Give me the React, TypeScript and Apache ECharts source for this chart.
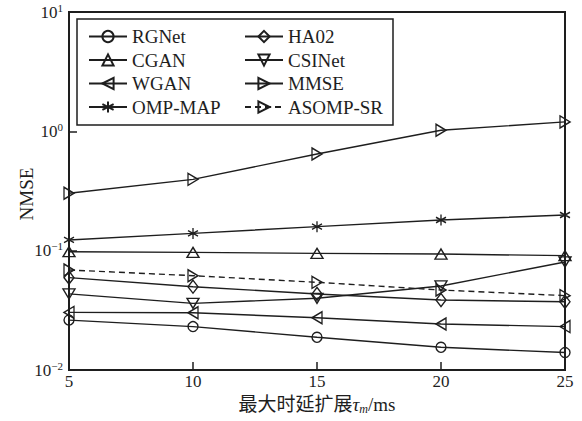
import React, { useEffect, useRef } from 'react';
import * as echarts from 'echarts';

const delays = [5, 10, 15, 20, 25];
const rgnet = [0.0262, 0.0231, 0.0188, 0.0155, 0.014];
const ha02 = [0.0594, 0.0499, 0.0434, 0.0386, 0.0373];
const cgan = [0.098, 0.0968, 0.095, 0.0937, 0.0908];
const csinet = [0.0434, 0.0362, 0.0399, 0.0506, 0.0804];
const wgan = [0.0304, 0.0302, 0.0274, 0.0243, 0.0231];
const mmse = [0.303, 0.396, 0.645, 1.02, 1.2];
const ompMap = [0.123, 0.1396, 0.159, 0.1807, 0.199];
const asompSr = [0.0689, 0.0617, 0.0543, 0.0468, 0.042];
const legendCol1 = ['RGNet', 'CGAN', 'WGAN', 'OMP-MAP'];
const legendCol2 = ['HA02', 'CSINet', 'MMSE', 'ASOMP-SR'];
const xTitle = '最大时延扩展';
const yTitle = 'NMSE';

const INK = '#1e1e1e';
const SERIF = 'Liberation Serif';
const CJK = "'Liberation Serif', 'Noto Sans CJK SC', serif";

const SYM_UP = 'path://M5,0 L10,8.66 L0,8.66 Z';
const SYM_DOWN = 'path://M0,0 L10,0 L5,8.66 Z';
const SYM_LEFT = 'path://M0,5 L8.66,0 L8.66,10 Z';
const SYM_RIGHT = 'path://M0,0 L8.66,5 L0,10 Z';
const SYM_STAR = 'path://M5,0 L5,10 M0.67,2.5 L9.33,7.5 M0.67,7.5 L9.33,2.5';

function mk(name: string, values: number[], symbol: string, size: any, dashed = false) {
  return {
    name,
    type: 'line',
    data: delays.map((d, i) => [d, values[i]]),
    symbol,
    symbolSize: size,
    showAllSymbol: true,
    clip: false,
    lineStyle: { color: INK, width: 1.4, type: dashed ? [6, 4] : 'solid' },
    itemStyle: { color: 'rgba(255,255,255,0)', borderColor: INK, borderWidth: 1.4 },
    emphasis: { disabled: true },
    z: 3,
  };
}

export default function App() {
  const ref = useRef<HTMLDivElement>(null);
  useEffect(() => {
    if (!ref.current) return;
    const chart = echarts.init(ref.current, null, { renderer: 'svg' });
    const legendBase: any = {
      orient: 'vertical',
      top: 26.5,
      padding: 0,
      itemWidth: 38,
      itemHeight: 14,
      itemGap: 3.5,
      selectedMode: false,
      textStyle: {
        fontFamily: SERIF,
        fontSize: 19,
        color: INK,
        lineHeight: 20,
      },
    };
    chart.setOption({
      animation: false,
      backgroundColor: '#fff',
      textStyle: { fontFamily: SERIF, color: INK },
      grid: { left: 69, right: 17, top: 12, bottom: 51, show: true, borderColor: INK, borderWidth: 2, backgroundColor: 'transparent' },
      legend: [
        { ...legendBase, left: 88, data: legendCol1 },
        { ...legendBase, left: 244, data: legendCol2 },
      ],
      xAxis: {
        type: 'value',
        min: 5,
        max: 25,
        interval: 5,
        axisLine: { show: true, lineStyle: { color: INK, width: 2 } },
        axisTick: { show: true, inside: true, length: 8, lineStyle: { color: INK, width: 1.5 } },
        splitLine: { show: false },
        axisLabel: { color: INK, fontFamily: SERIF, fontSize: 17, margin: 3 },
      },
      yAxis: {
        type: 'log',
        logBase: 10,
        min: 0.01,
        max: 10,
        axisLine: { show: true, lineStyle: { color: INK, width: 2 } },
        axisTick: { show: true, inside: true, length: 8, lineStyle: { color: INK, width: 1.5 } },
        splitLine: { show: false },
        minorTick: { show: false },
        axisLabel: {
          margin: 6,
          formatter: (v: number) => {
            const e = Math.round(Math.log10(v));
            return '{b|10}{s|' + (e < 0 ? '\u2212' + -e : '' + e) + '}';
          },
          rich: {
            b: { fontFamily: SERIF, fontSize: 17, color: INK, lineHeight: 20 },
            s: { fontFamily: SERIF, fontSize: 11, color: INK, lineHeight: 11, verticalAlign: 'top' },
          },
        },
      },
      graphic: [
        {
          type: 'rect',
          z: 1,
          shape: { x: 77, y: 19, width: 316, height: 106 },
          style: { fill: '#fff', stroke: INK, lineWidth: 1.5 },
        },
        {
          type: 'text',
          x: 317,
          y: 404,
          style: {
            text: '{a|' + xTitle + '}{t|τ}{m|m}{a|/ms}',
            align: 'center',
            verticalAlign: 'middle',
            rich: {
              a: { fontFamily: CJK, fontSize: 19, fill: INK, lineHeight: 22 },
              t: { fontFamily: SERIF, fontStyle: 'italic', fontSize: 19, fill: INK, lineHeight: 22 },
              m: { fontFamily: SERIF, fontStyle: 'italic', fontSize: 12, fill: INK, lineHeight: 12, verticalAlign: 'bottom' },
            },
          },
        },
        {
          type: 'text',
          x: 26,
          y: 194,
          rotation: Math.PI / 2,
          style: { text: yTitle, fontFamily: SERIF, fontSize: 19, fill: INK, align: 'center', verticalAlign: 'middle' },
        },
      ],
      series: [
        mk('RGNet', rgnet, 'circle', 10),
        mk('HA02', ha02, 'diamond', [10, 13]),
        mk('CGAN', cgan, SYM_UP, [12, 10]),
        mk('CSINet', csinet, SYM_DOWN, [12, 10]),
        mk('WGAN', wgan, SYM_LEFT, [10, 12]),
        mk('MMSE', mmse, SYM_RIGHT, [10, 12]),
        mk('OMP-MAP', ompMap, SYM_STAR, [10, 11]),
        mk('ASOMP-SR', asompSr, SYM_RIGHT, [10, 12], true),
      ],
    });
    return () => chart.dispose();
  }, []);
  return <div ref={ref} style={{ position: 'fixed', left: 0, top: 0, width: 582, height: 421 }} />;
}
